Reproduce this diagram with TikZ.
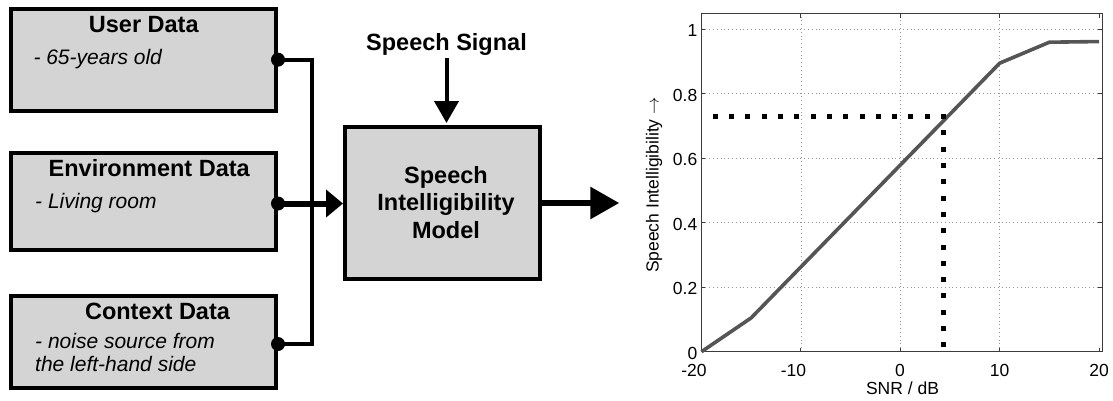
\documentclass[tikz,border=0pt]{standalone}
\usepackage{fontspec}
\setmainfont{Liberation Sans}
\usetikzlibrary{arrows.meta}
\definecolor{boxgray}{RGB}{212,212,212}
\definecolor{curvegray}{RGB}{85,85,85}
\definecolor{axisgray}{RGB}{60,60,60}
\definecolor{gridgray}{RGB}{150,150,150}
\begin{document}
\begin{tikzpicture}[x=1pt,y=-1pt,
  databox/.style={draw=black, fill=boxgray, line width=4pt, rectangle, inner sep=0pt},
  titletext/.style={font=\fontsize{23.5}{27.5}\selectfont\bfseries, inner sep=0pt, anchor=base},
  itext/.style={font=\fontsize{21}{24}\selectfont\itshape, inner sep=0pt, anchor=base west},
  conn/.style={line width=4pt, black},
  junction/.style={circle, fill=black, inner sep=0pt, minimum size=14pt},
  axlabel/.style={font=\fontsize{17.5}{20}\selectfont, inner sep=0pt},
  gridline/.style={gridgray, line width=0.6pt, dash pattern=on 0.8pt off 3pt},
  axisline/.style={axisgray, line width=1pt},
  curveline/.style={curvegray, line width=3.6pt},
  sidots/.style={black, line width=5pt, line cap=rect, dash pattern=on 0.01pt off 16.29pt},
]
\useasboundingbox (0,0) rectangle (1113,400);

% ---- data boxes ----
\node[databox, minimum width=264.7pt, minimum height=101.7pt] (user) at (143.65,59.65) {};
\node[databox, minimum width=264.7pt, minimum height=97pt] (env) at (143.65,201.5) {};
\node[databox, minimum width=264.7pt, minimum height=92pt] (ctx) at (143.65,342) {};
\node[databox, minimum width=195pt, minimum height=152pt] (model) at (442.5,203) {};

\node[titletext] (usert) at (143.8,32.3) {User Data};
\node[itext] (useri) at (33.3,64) {- 65-years old};
\node[titletext] (envt) at (149.2,176) {Environment Data};
\node[itext] (envi) at (35,208.3) {- Living room};
\node[titletext] (ctxt) at (157.5,319.3) {Context Data};
\node[itext] (ctxi) at (35,348.3) {- noise source from};
\node[itext] (ctxj) at (35,371.7) {the left-hand side};

\node[font=\fontsize{23.5}{27.5}\selectfont\bfseries, align=center, inner sep=0pt]
  (modelt) at (446,202.2) {Speech\\Intelligibility\\Model};
\node[titletext] (sig) at (446.5,50) {Speech Signal};

% ---- connectors ----
\coordinate (bus) at (312,0);
\draw[conn] (user.east) -- (user.east -| bus) -- ([yshift=-2pt]ctx.east -| bus) -- ([yshift=-2pt]ctx.east);
\draw[line width=6pt, -{Triangle[length=17pt,width=27pt]}]
  ([yshift=-2pt]env.east) -- ([yshift=-2pt]env.east -| model.west);
\node[junction] (j1) at (user.east) {};
\node[junction] (j2) at ([yshift=-2pt]env.east) {};
\node[junction] (j3) at ([yshift=-2pt]ctx.east) {};

\draw[line width=4pt, -{Triangle[length=22pt,width=24pt]}]
  ([yshift=-3pt]sig.south) -- ([yshift=2pt]sig.south |- model.north);

\coordinate (outtip) at (619.3,203.7);
\draw[line width=6pt, -{Triangle[length=29pt,width=31pt]}] (model.east) -- (model.east -| outtip);

% ---- plot ----
\begin{scope}[shift={(900.3,351.7)}, x=9.94pt, y=322.4pt]
  \foreach \gx in {-10,0,10} \draw[gridline] (\gx,0) -- (\gx,1.0475);
  \foreach \gy in {0.2,0.4,0.6,0.8,1} \draw[gridline] (-20,\gy) -- (20.32,\gy);
  \draw[axisline] (-20,0) rectangle (20.32,1.0475);
  \foreach \t in {-20,-10,0,10,20} {
    \draw[axisline] (\t,0) -- ++(0,0.0124);
    \draw[axisline] (\t,1.0475) -- ++(0,-0.0124);
  }
  \foreach \t in {0,0.2,0.4,0.6,0.8,1} {
    \draw[axisline] (-20,\t) -- ++(0.4,0);
    \draw[axisline] (20.32,\t) -- ++(-0.4,0);
  }
  \draw[curveline] (-20,0) -- (-15,0.105) -- (10,0.895) -- (15,0.96) -- (20,0.962);
  \draw[sidots] (4.35,0.729) -- (-18.66,0.729);
  \draw[sidots] (4.35,0.729) -- (4.35,0.019);
\end{scope}

% tick labels
\node[axlabel, anchor=base] (xl1) at (694,376) {-20};
\node[axlabel, anchor=base] (xl2) at (793.4,376) {-10};
\node[axlabel, anchor=base] (xl3) at (900,376) {0};
\node[axlabel, anchor=base] (xl4) at (999.5,376) {10};
\node[axlabel, anchor=base] (xl5) at (1099,376) {20};
\node[axlabel, anchor=base east] (yl1) at (697.5,359.2) {0};
\node[axlabel, anchor=base east] (yl2) at (697.5,294.7) {0.2};
\node[axlabel, anchor=base east] (yl3) at (697.5,230.2) {0.4};
\node[axlabel, anchor=base east] (yl4) at (697.5,165.8) {0.6};
\node[axlabel, anchor=base east] (yl5) at (697.5,101.3) {0.8};
\node[axlabel, anchor=base east] (yl6) at (697.5,36.8) {1};
\node[axlabel, anchor=base] (xlab) at (902.5,394) {SNR / dB};
\node[axlabel, rotate=90] (ylab) at (654,185) {Speech Intelligibility $\rightarrow$};
\end{tikzpicture}
\end{document}
